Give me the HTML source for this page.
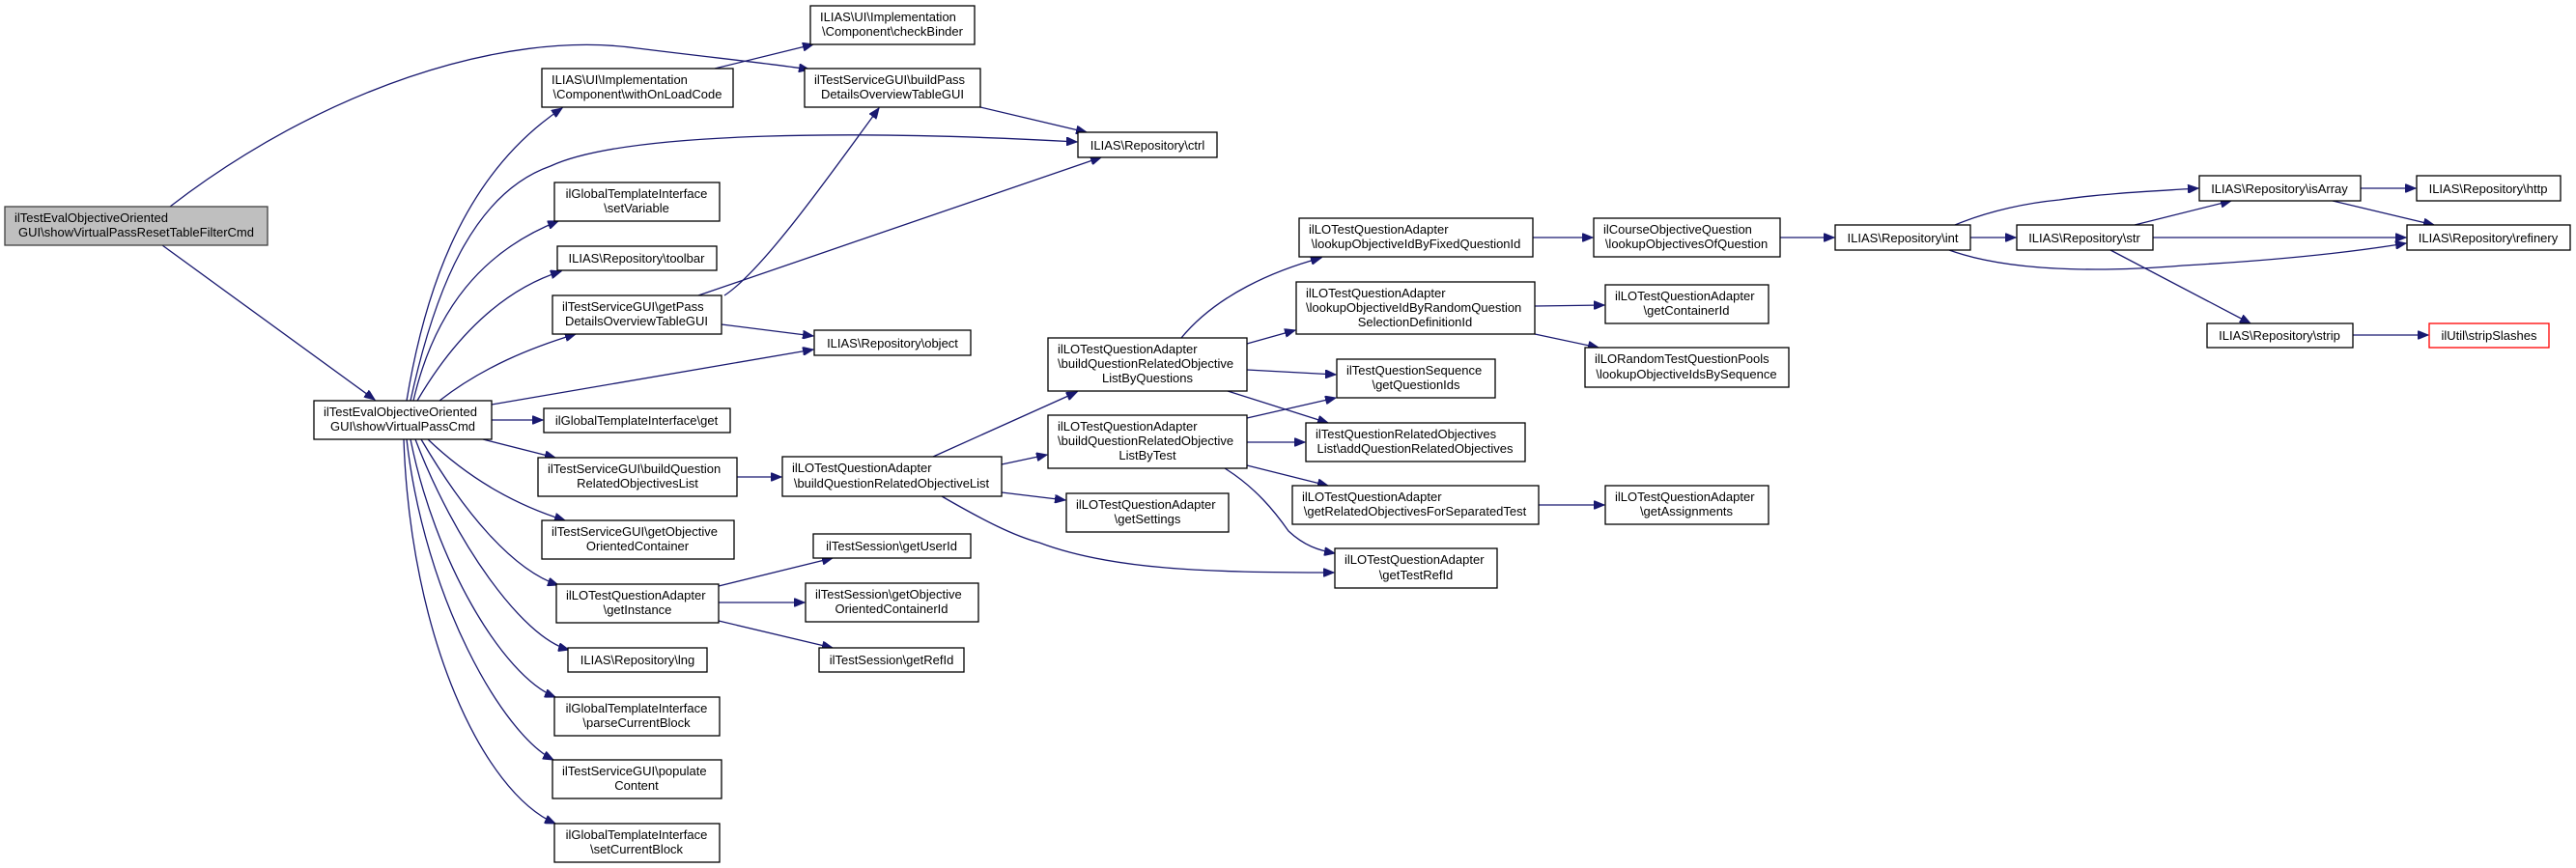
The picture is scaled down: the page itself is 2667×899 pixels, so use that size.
<!DOCTYPE html>
<html><head><meta charset="utf-8"><style>
html,body{margin:0;padding:0;background:#fff;}
svg{display:block;}
text{font-family:"Liberation Sans",Arial,sans-serif;font-size:13px;fill:#000;}
.e{fill:none;stroke:#191970;stroke-width:1.3;marker-end:url(#a);}
.n{fill:#fff;stroke:#000;stroke-width:1.3;}
.m{text-anchor:middle;}
</style></head><body>
<svg width="2667" height="899" viewBox="0 0 2667 899" xmlns="http://www.w3.org/2000/svg">
<defs><marker id="a" markerUnits="userSpaceOnUse" markerWidth="12" markerHeight="9" refX="11" refY="4.5" orient="auto"><path d="M0,0 L11,4.5 L0,9 z" fill="#191970" stroke="#191970"/></marker></defs>

<!-- edges -->
<path class="e" d="M176,214 C330,95 520,30 660,50 C740,60 800,66 838,72"/>
<path class="e" d="M168,254 L388,414"/>
<path class="e" d="M421,415 C440,300 480,180 582,112"/>
<path class="e" d="M425,415 C450,300 490,200 570,172 C650,135 900,135 1115,147"/>
<path class="e" d="M428,415 C450,320 500,260 578,229"/>
<path class="e" d="M432,415 C470,350 520,300 581,281"/>
<path class="e" d="M455,415 C500,380 550,360 596,346"/>
<path class="e" d="M509,419 L842,362"/>
<path class="e" d="M509,435 L562,435"/>
<path class="e" d="M500,455 L575,474"/>
<path class="e" d="M443,455 C490,500 540,525 585,539"/>
<path class="e" d="M436,455 C480,530 530,590 578,606"/>
<path class="e" d="M430,455 C470,560 540,660 589,673"/>
<path class="e" d="M425,455 C450,580 520,700 575,722"/>
<path class="e" d="M421,455 C440,620 520,760 573,787"/>
<path class="e" d="M418,455 C425,660 500,820 575,853"/>
<path class="e" d="M740,71 L842,46"/>
<path class="e" d="M750,306 C790,280 860,180 910,112"/>
<path class="e" d="M723,306 L1140,163"/>
<path class="e" d="M747,336 L842,348"/>
<path class="e" d="M1015,111 L1125,137"/>
<path class="e" d="M763,494 L809,494"/>
<path class="e" d="M744,607 L862,578"/>
<path class="e" d="M744,624 L833,624"/>
<path class="e" d="M744,643 L862,671"/>
<path class="e" d="M966,473 L1115,406"/>
<path class="e" d="M1037,481 L1084,471"/>
<path class="e" d="M1037,510 L1103,518"/>
<path class="e" d="M975,514 C1020,540 1050,555 1076,562 C1150,590 1250,593 1381,593"/>
<path class="e" d="M1223,350 C1260,305 1320,280 1368,267"/>
<path class="e" d="M1291,356 L1341,342"/>
<path class="e" d="M1291,383 L1383,388"/>
<path class="e" d="M1271,405 L1375,438"/>
<path class="e" d="M1291,433 L1383,412"/>
<path class="e" d="M1291,458 L1351,458"/>
<path class="e" d="M1291,482 L1375,503"/>
<path class="e" d="M1268,485 C1300,505 1320,530 1334,550 C1350,565 1365,570 1382,573"/>
<path class="e" d="M1587,246 L1649,246"/>
<path class="e" d="M1589,317 L1661,316"/>
<path class="e" d="M1589,346 L1655,360"/>
<path class="e" d="M1593,523 L1661,523"/>
<path class="e" d="M1843,246 L1899,246"/>
<path class="e" d="M2040,246 L2087,246"/>
<path class="e" d="M2024,233 C2060,218 2100,210 2132,207 C2180,200 2230,198 2276,195"/>
<path class="e" d="M2018,259 C2090,285 2200,280 2260,275 C2350,270 2430,262 2491,252"/>
<path class="e" d="M2210,233 L2310,208"/>
<path class="e" d="M2229,246 L2491,246"/>
<path class="e" d="M2185,259 L2330,335"/>
<path class="e" d="M2444,195 L2501,195"/>
<path class="e" d="M2415,208 L2520,233"/>
<path class="e" d="M2436,347 L2514,347"/>

<!-- nodes -->
<rect x="5" y="214" width="272" height="40" fill="#bfbfbf" stroke="#404040" stroke-width="1.3"/>
<text x="15" y="230">ilTestEvalObjectiveOriented</text><text x="141" y="245" class="m">GUI\showVirtualPassResetTableFilterCmd</text>

<rect class="n" x="325" y="415" width="184" height="40"/>
<text x="335" y="431">ilTestEvalObjectiveOriented</text><text x="417" y="446" class="m">GUI\showVirtualPassCmd</text>

<rect class="n" x="561" y="71" width="198" height="40"/>
<text x="571" y="87">ILIAS\UI\Implementation</text><text x="660" y="102" class="m">\Component\withOnLoadCode</text>

<rect class="n" x="839" y="6" width="170" height="40"/>
<text x="849" y="22">ILIAS\UI\Implementation</text><text x="924" y="37" class="m">\Component\checkBinder</text>

<rect class="n" x="833" y="71" width="182" height="40"/>
<text x="843" y="87">ilTestServiceGUI\buildPass</text><text x="924" y="102" class="m">DetailsOverviewTableGUI</text>

<rect class="n" x="1116" y="137" width="144" height="26"/>
<text x="1188" y="155" class="m">ILIAS\Repository\ctrl</text>

<rect class="n" x="574" y="189" width="171" height="40"/>
<text x="659" y="205" class="m">ilGlobalTemplateInterface</text><text x="659" y="220" class="m">\setVariable</text>

<rect class="n" x="577" y="255" width="165" height="25"/>
<text x="659" y="272" class="m">ILIAS\Repository\toolbar</text>

<rect class="n" x="572" y="306" width="175" height="40"/>
<text x="582" y="322">ilTestServiceGUI\getPass</text><text x="659" y="337" class="m">DetailsOverviewTableGUI</text>

<rect class="n" x="843" y="342" width="162" height="26"/>
<text x="924" y="360" class="m">ILIAS\Repository\object</text>

<rect class="n" x="563" y="423" width="193" height="25"/>
<text x="659" y="440" class="m">ilGlobalTemplateInterface\get</text>

<rect class="n" x="557" y="474" width="206" height="40"/>
<text x="567" y="490">ilTestServiceGUI\buildQuestion</text><text x="660" y="505" class="m">RelatedObjectivesList</text>

<rect class="n" x="561" y="539" width="199" height="40"/>
<text x="571" y="555">ilTestServiceGUI\getObjective</text><text x="660" y="570" class="m">OrientedContainer</text>

<rect class="n" x="576" y="605" width="168" height="40"/>
<text x="586" y="621">ilLOTestQuestionAdapter</text><text x="660" y="636" class="m">\getInstance</text>

<rect class="n" x="588" y="671" width="144" height="25"/>
<text x="660" y="688" class="m">ILIAS\Repository\lng</text>

<rect class="n" x="574" y="722" width="171" height="40"/>
<text x="659" y="738" class="m">ilGlobalTemplateInterface</text><text x="659" y="753" class="m">\parseCurrentBlock</text>

<rect class="n" x="572" y="787" width="175" height="40"/>
<text x="582" y="803">ilTestServiceGUI\populate</text><text x="659" y="818" class="m">Content</text>

<rect class="n" x="574" y="853" width="171" height="40"/>
<text x="659" y="869" class="m">ilGlobalTemplateInterface</text><text x="659" y="884" class="m">\setCurrentBlock</text>

<rect class="n" x="810" y="473" width="227" height="41"/>
<text x="820" y="489">ilLOTestQuestionAdapter</text><text x="923" y="505" class="m">\buildQuestionRelatedObjectiveList</text>

<rect class="n" x="842" y="553" width="163" height="25"/>
<text x="923" y="570" class="m">ilTestSession\getUserId</text>

<rect class="n" x="834" y="604" width="179" height="40"/>
<text x="844" y="620">ilTestSession\getObjective</text><text x="923" y="635" class="m">OrientedContainerId</text>

<rect class="n" x="848" y="671" width="150" height="25"/>
<text x="923" y="688" class="m">ilTestSession\getRefId</text>

<rect class="n" x="1085" y="350" width="206" height="55"/>
<text x="1095" y="366">ilLOTestQuestionAdapter</text><text x="1095" y="381">\buildQuestionRelatedObjective</text><text x="1188" y="396" class="m">ListByQuestions</text>

<rect class="n" x="1085" y="430" width="206" height="55"/>
<text x="1095" y="446">ilLOTestQuestionAdapter</text><text x="1095" y="461">\buildQuestionRelatedObjective</text><text x="1188" y="476" class="m">ListByTest</text>

<rect class="n" x="1104" y="511" width="168" height="40"/>
<text x="1114" y="527">ilLOTestQuestionAdapter</text><text x="1188" y="542" class="m">\getSettings</text>

<rect class="n" x="1345" y="226" width="242" height="40"/>
<text x="1355" y="242">ilLOTestQuestionAdapter</text><text x="1466" y="257" class="m">\lookupObjectiveIdByFixedQuestionId</text>

<rect class="n" x="1342" y="292" width="247" height="54"/>
<text x="1352" y="308">ilLOTestQuestionAdapter</text><text x="1352" y="323">\lookupObjectiveIdByRandomQuestion</text><text x="1465" y="338" class="m">SelectionDefinitionId</text>

<rect class="n" x="1384" y="372" width="164" height="40"/>
<text x="1394" y="388">ilTestQuestionSequence</text><text x="1466" y="403" class="m">\getQuestionIds</text>

<rect class="n" x="1352" y="438" width="227" height="40"/>
<text x="1362" y="454">ilTestQuestionRelatedObjectives</text><text x="1465" y="469" class="m">List\addQuestionRelatedObjectives</text>

<rect class="n" x="1338" y="503" width="255" height="40"/>
<text x="1348" y="519">ilLOTestQuestionAdapter</text><text x="1465" y="534" class="m">\getRelatedObjectivesForSeparatedTest</text>

<rect class="n" x="1382" y="568" width="168" height="41"/>
<text x="1392" y="584">ilLOTestQuestionAdapter</text><text x="1466" y="600" class="m">\getTestRefId</text>

<rect class="n" x="1650" y="226" width="193" height="40"/>
<text x="1660" y="242">ilCourseObjectiveQuestion</text><text x="1746" y="257" class="m">\lookupObjectivesOfQuestion</text>

<rect class="n" x="1662" y="295" width="169" height="40"/>
<text x="1672" y="311">ilLOTestQuestionAdapter</text><text x="1746" y="326" class="m">\getContainerId</text>

<rect class="n" x="1641" y="360" width="211" height="41"/>
<text x="1651" y="376">ilLORandomTestQuestionPools</text><text x="1746" y="392" class="m">\lookupObjectiveIdsBySequence</text>

<rect class="n" x="1662" y="503" width="169" height="40"/>
<text x="1672" y="519">ilLOTestQuestionAdapter</text><text x="1746" y="534" class="m">\getAssignments</text>

<rect class="n" x="1900" y="233" width="140" height="26"/>
<text x="1970" y="251" class="m">ILIAS\Repository\int</text>

<rect class="n" x="2088" y="233" width="141" height="26"/>
<text x="2158" y="251" class="m">ILIAS\Repository\str</text>

<rect class="n" x="2277" y="182" width="167" height="26"/>
<text x="2360" y="200" class="m">ILIAS\Repository\isArray</text>

<rect class="n" x="2502" y="182" width="149" height="26"/>
<text x="2576" y="200" class="m">ILIAS\Repository\http</text>

<rect class="n" x="2492" y="233" width="169" height="26"/>
<text x="2576" y="251" class="m">ILIAS\Repository\refinery</text>

<rect class="n" x="2285" y="335" width="151" height="25"/>
<text x="2360" y="352" class="m">ILIAS\Repository\strip</text>

<rect x="2515" y="335" width="124" height="25" fill="#fff" stroke="#ff0000" stroke-width="1.3"/>
<text x="2577" y="352" class="m">ilUtil\stripSlashes</text>
</svg>
</body></html>
